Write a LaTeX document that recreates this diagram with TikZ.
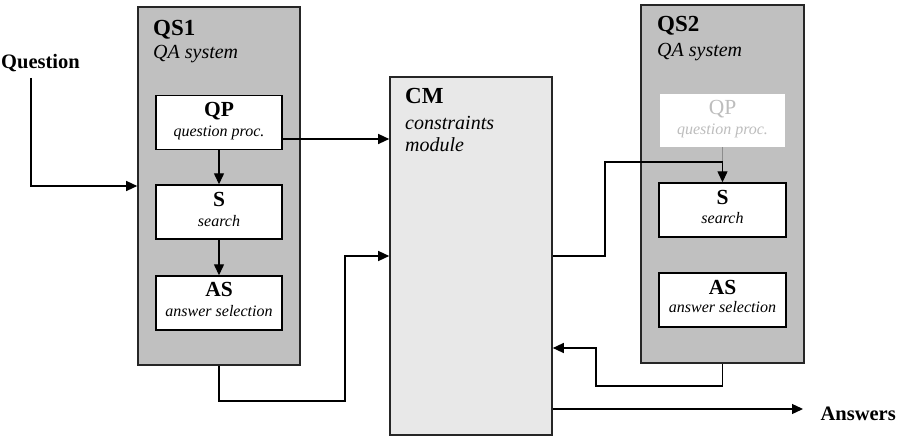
\documentclass[tikz,border=0pt]{standalone}
\usepackage{fontspec}
\setmainfont{Liberation Serif}
\usetikzlibrary{arrows.meta}
\definecolor{sysgray}{HTML}{C0C0C0}
\definecolor{cmgray}{HTML}{E8E8E8}
\definecolor{fadetext}{HTML}{BDBDBD}
\tikzset{
  sysbox/.style={draw=black!85, line width=1.6pt, fill=sysgray, inner sep=0pt},
  cmbox/.style={draw=black!85, line width=1.6pt, fill=cmgray, inner sep=0pt},
  modbox/.style={draw=black, line width=1.4pt, fill=white, inner sep=0pt, minimum width=126pt, minimum height=54pt},
  fadebox/.style={draw=none, fill=white, inner sep=0pt, minimum width=125pt, minimum height=53pt},
  arr/.style={line width=1.3pt, -{Triangle[length=11pt,width=10pt]}},
  conn/.style={line width=1.3pt},
  bigtitle/.style={inner sep=0pt, anchor=base west, font=\fontsize{23}{23}\selectfont\bfseries},
  subtitle/.style={inner sep=0pt, anchor=base west, font=\fontsize{20}{20}\selectfont\itshape},
  modtitle/.style={inner sep=0pt, anchor=base, font=\fontsize{21.5}{21.5}\selectfont\bfseries},
  modsub/.style={inner sep=0pt, anchor=base, font=\fontsize{16}{16}\selectfont\itshape},
  iolabel/.style={inner sep=0pt, anchor=base west, font=\fontsize{20.5}{20.5}\selectfont\bfseries},
}
\begin{document}
\begin{tikzpicture}[x=1pt,y=-1pt]
\useasboundingbox[fill=white] (0,0) rectangle (897,446);
% system boxes
\node[sysbox, minimum width=162pt, minimum height=358pt] (qs1) at (219,186) {};
\node[cmbox, minimum width=162pt, minimum height=358pt] (cm) at (471,256) {};
\node[sysbox, minimum width=163pt, minimum height=358pt] (qs2) at (722.5,184) {};
% modules QS1
\node[modbox] (qp1) at (219,122.5) {};
\node[modbox] (s1) at (219,212) {};
\node[modbox] (as1) at (219,303) {};
% modules QS2
\node[fadebox] (qp2) at (722.5,120.5) {};
\node[modbox, minimum width=127pt] (s2) at (722.5,210) {};
\node[modbox, minimum width=127pt] (as2) at (722.5,300) {};
% titles
\node[bigtitle] (qs1t) at (153,36) {QS1};
\node[subtitle] (qs1s) at (153,59) {QA system};
\node[bigtitle] (qs2t) at (657,32) {QS2};
\node[subtitle] (qs2s) at (657,57) {QA system};
\node[bigtitle] (cmt) at (405,104) {CM};
\node[subtitle] (cms1) at (405,130) {constraints};
\node[subtitle] (cms2) at (405,152) {module};
% module labels QS1
\node[modtitle] (qp1t) at (219,117) {QP};
\node[modsub] (qp1s) at (219,137) {question proc.};
\node[modtitle] (s1t) at (219,207) {S};
\node[modsub] (s1s) at (219,227) {search};
\node[modtitle] (as1t) at (219,297) {AS};
\node[modsub] (as1s) at (219,317) {answer selection};
% module labels QS2
\node[modtitle, font=\fontsize{21.5}{21.5}\selectfont, text=fadetext] (qp2t) at (722.5,115) {QP};
\node[modsub, text=fadetext] (qp2s) at (722.5,135) {question proc.};
\node[modtitle] (s2t) at (722.5,205) {S};
\node[modsub] (s2s) at (722.5,224) {search};
\node[modtitle] (as2t) at (722.5,295) {AS};
\node[modsub] (as2s) at (722.5,313) {answer selection};
% io labels
\node[iolabel] (qlabel) at (1,69) {Question};
\node[iolabel, anchor=base east] (alabel) at (896,420) {Answers};
% helper coordinates
\coordinate (qstart) at (31,78);
\coordinate (b1) at (345,401);
\coordinate (b2) at (605,162);
\coordinate (b3) at (596,386);
\coordinate (aend) at (803,409);
% connectors
\draw[arr] (qstart) |- (qs1.west);
\draw[arr] (qp1.south) -- (s1.north);
\draw[arr] (s1.south) -- (as1.north);
\draw[arr] ([yshift=-16.5pt]qp1.east) coordinate (p1) -- (p1 -| cm.west);
\draw[arr] (qs1.south) |- (b1) |- (cm.west);
\draw[line width=0.9pt, draw=black!45] (qp2.south) -- (s2.north |- b2);
\draw[arr] (cm.east) -| (b2) -| (s2.north);
\draw[arr] (qs2.south) |- (b3) |- ([yshift=-92pt]cm.east);
\draw[arr] ([yshift=-153pt]cm.east) -- (aend);
\end{tikzpicture}
\end{document}
